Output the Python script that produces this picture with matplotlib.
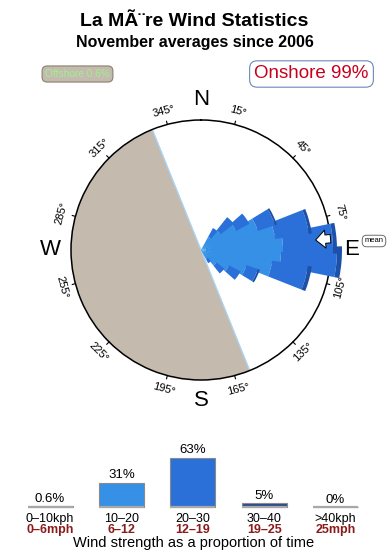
import numpy as np
import matplotlib
matplotlib.use("Agg")
import matplotlib.pyplot as plt

plt.rcParams['font.family'] = ['Liberation Sans', 'DejaVu Sans']

# ---------------- data ----------------
title = "La MÃ¨re Wind Statistics"
subtitle = "November averages since 2006"

# wind rose: direction bin centres (deg) and stacked speed-class values
rose_dirs = [35, 45, 55, 65, 75, 85, 95, 105, 115, 125, 135, 145]
rose_0_10 = [0.0, 0.0, 0.0, 0.0, 0.3, 0.5, 0.5, 0.3, 0.0, 0.0, 0.0, 0.0]
rose_10_20 = [1.5, 2.5, 4.0, 6.0, 7.2, 7.7, 7.5, 6.9, 4.8, 3.2, 2.0, 1.0]
rose_20_30 = [1.0, 1.7, 1.5, 1.8, 3.4, 5.0, 5.6, 3.6, 1.2, 1.3, 1.0, 0.5]
rose_30_40 = [0.0, 0.0, 0.0, 0.2, 0.3, 0.4, 0.5, 0.4, 0.2, 0.0, 0.0, 0.0]
rose_max = 13.0
mean_dir = 85

offshore_from, offshore_to = 158, 338
offshore_txt = "Offshore 0.6%"
onshore_txt = "Onshore 99%"

deg_ticks = [15, 45, 75, 105, 135, 165, 195, 225, 255, 285, 315, 345]
compass = ["N", "E", "S", "W"]
compass_deg = [0, 90, 180, 270]

# speed distribution
speed_pct = [0.6, 31, 63, 5, 0]
speed_lbl = ["0.6%", "31%", "63%", "5%", "0%"]
kph_lbl = ["0\u201310kph", "10\u201320", "20\u201330", "30\u201340", ">40kph"]
mph_lbl = ["0\u20136mph", "6\u201312", "12\u201319", "19\u201325", "25mph"]
speed_cols = ["#b0b0b0", "#3590e6", "#2a70d8", "#2c4a8c", "#b0b0b0"]

# ---------------- figure ----------------
W, H = 390, 560
fig = plt.figure(figsize=(W / 100, H / 100), dpi=100)
fig.patch.set_facecolor("white")

def fy(py):
    return 1 - py / H

fig.text(194 / W, fy(26), title, ha="center", va="baseline",
         fontsize=14, fontweight="bold")
fig.text(194.5 / W, fy(46.5), subtitle, ha="center", va="baseline",
         fontsize=11.5, fontweight="bold")

fig.text(77.5 / W, fy(74), offshore_txt, ha="center", va="center",
         fontsize=7.3, color="#a0f090",
         bbox=dict(boxstyle="round,pad=0.3,rounding_size=0.5",
                   fc="#c4baae", ec="#8a8070", lw=0.8))
fig.text(311.5 / W, fy(74), onshore_txt, ha="center", va="center",
         fontsize=13.5, color="#c8001e",
         bbox=dict(boxstyle="round,pad=0.25,rounding_size=0.4",
                   fc="white", ec="#6a88b8", lw=0.8))
fig.text(374 / W, fy(241), "mean", ha="center", va="center", fontsize=5.5,
         bbox=dict(boxstyle="round,pad=0.3,rounding_size=0.6",
                   fc="white", ec="#555555", lw=0.6))

# ---------------- rose ----------------
cx, cy, R = 201, 250, 130
ax = fig.add_axes([(cx - R) / W, (H - cy - R) / H, 2 * R / W, 2 * R / H],
                  projection="polar")
ax.set_theta_zero_location("N")
ax.set_theta_direction(-1)
ax.set_ylim(0, rose_max)
ax.grid(False)
ax.set_xticks([])
ax.set_yticks([])
ax.spines["polar"].set_color("black")
ax.spines["polar"].set_linewidth(1.1)

# offshore half
off_w = (offshore_to - offshore_from)
ax.bar(np.radians(offshore_from + off_w / 2), rose_max, width=np.radians(off_w),
       bottom=0, color="#c4baae", edgecolor="none", zorder=1)
for d in (offshore_from, offshore_to):
    ax.plot([np.radians(d)] * 2, [0, rose_max], color="#a8d4f4", lw=1.0, zorder=2)

th = np.radians(rose_dirs)
wd = np.radians(13)
tot = (np.array(rose_0_10) + np.array(rose_10_20) +
       np.array(rose_20_30) + np.array(rose_30_40))
# draw longest petals first so shorter ones overlap them
order = np.argsort(-tot)
layers = [(rose_0_10, "#45c8ec"), (rose_10_20, "#3590e6"),
          (rose_20_30, "#2a70d8"), (rose_30_40, "#1d50a8")]
for k, i in enumerate(order):
    b = 0.0
    for vals, col in layers:
        v = vals[i]
        if v > 0:
            ax.bar(th[i], v, width=wd, bottom=b, color=col, edgecolor="none",
                   clip_on=False, zorder=3 + k * 0.01)
        b += v

# ticks and degree labels
for d in deg_ticks:
    t = np.radians(d)
    ax.plot([t, t], [rose_max, rose_max * 1.025], color="black", lw=0.8,
            clip_on=False, zorder=4)
    rot = -d if (d < 90 or d > 270) else 180 - d
    ax.text(t, rose_max * 1.108, f"{d}\u00b0", ha="center", va="center",
            rotation=rot, rotation_mode="anchor", fontsize=8)
for lbl, d in zip(compass, compass_deg):
    ax.text(np.radians(d), rose_max * 1.155, lbl, ha="center", va="center",
            fontsize=16)

# mean direction arrow
ax.annotate("", xy=(np.radians(mean_dir), rose_max * 0.885),
            xytext=(np.radians(mean_dir), rose_max * 1.0),
            arrowprops=dict(arrowstyle="simple,head_length=0.7,head_width=1.3,tail_width=0.6",
                            fc="white", ec="black", lw=0.7,
                            shrinkA=0, shrinkB=0, mutation_scale=10),
            zorder=6, annotation_clip=False)

# ---------------- speed bars ----------------
x0, dx = 50, 71.375
base_py = 506.7
pxpp = 0.78
bh = 100
bax = fig.add_axes([0, (H - base_py) / H, 1, bh / H])
bax.set_xlim(-x0 / dx, (W - x0) / dx)
bax.set_ylim(0, bh / pxpp)
bax.axis("off")
xs = np.arange(len(speed_pct))
bw = 45 / dx
bax.bar(xs, speed_pct, width=bw, color=speed_cols, edgecolor="#8a8a8a",
        lw=0.8, clip_on=False)
bax.hlines(np.zeros(len(xs)), xs - bw / 2, xs + bw / 2, color="#a8a8a8",
           lw=1.6, clip_on=False)
for i, (v, s) in enumerate(zip(speed_pct, speed_lbl)):
    bax.annotate(s, xy=(i, v), xytext=(0, 3), textcoords="offset points",
                 ha="center", va="baseline", fontsize=9.5,
                 annotation_clip=False)
    bax.annotate(kph_lbl[i], xy=(i, 0), xytext=(0, -11.2),
                 textcoords="offset points", ha="center", va="baseline",
                 fontsize=9, annotation_clip=False)
    bax.annotate(mph_lbl[i], xy=(i, 0), xytext=(0, -19.2),
                 textcoords="offset points", ha="center", va="baseline",
                 fontsize=9, fontweight="bold", color="#8b1a1a",
                 annotation_clip=False)

fig.text(194 / W, fy(547.5), "Wind strength as a proportion of time",
         ha="center", va="baseline", fontsize=10.5)

fig.savefig("out.png", dpi=100)
